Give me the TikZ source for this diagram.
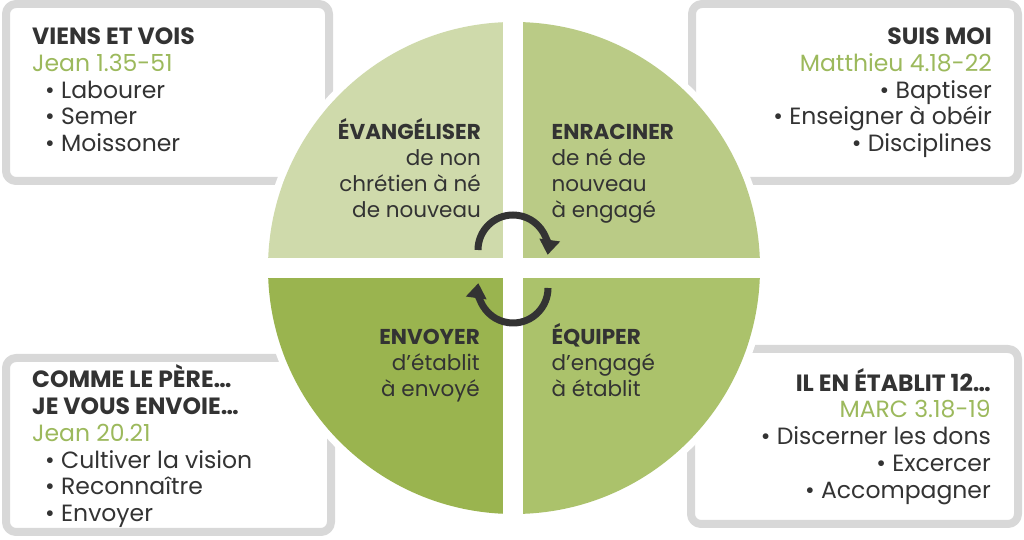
\documentclass[tikz,border=0pt]{standalone}
\usepackage{fontspec}
\setmainfont{Poppins}
\usetikzlibrary{arrows.meta}
\definecolor{textgray}{HTML}{333333}
\definecolor{refgreen}{HTML}{9CB95C}
\definecolor{boxgray}{HTML}{D8D8D8}
\definecolor{quadA}{HTML}{CFDAAB}
\definecolor{quadB}{HTML}{BACB86}
\definecolor{quadC}{HTML}{9AB44F}
\definecolor{quadD}{HTML}{ABC26B}
\newcommand{\bul}{\textbullet\ }
\newcommand{\verset}[1]{{\color{refgreen}#1}}

\begin{document}
\begin{tikzpicture}[line cap=round,line join=round,>={Triangle[length=15pt,width=20pt]},x=1pt,y=1pt,
  boxframe/.style={line width=8pt,color=boxgray,fill=white,rounded corners=10pt},
  boxtext/.style={inner sep=0pt,text=textgray,font=\fontsize{23.5}{26.8}\selectfont},
  quadtext/.style={inner sep=0pt,text=textgray,font=\fontsize{21.5}{26}\selectfont},
  cyclearrow/.style={->,line width=7pt,color=textgray,line cap=butt}]
\useasboundingbox (0,0) rectangle (1024,540);

% cadres
\draw [boxframe] (6,536) rectangle (329,359);
\draw [boxframe] (692,536) rectangle (1018,359);
\draw [boxframe] (6,182) rectangle (331,8);
\draw [boxframe] (691,191) rectangle (1018,16);

% cercle
\coordinate (C) at (514,272);
\draw [white,line width=7pt] (C) circle (249.5);
\fill [quadA] (C) -- ++(180:246) arc (180:90:246) -- cycle;
\fill [quadB] (C) -- ++(90:246) arc (90:0:246) -- cycle;
\fill [quadC] (C) -- ++(270:246) arc (270:180:246) -- cycle;
\fill [quadD] (C) -- ++(0:246) arc (0:-90:246) -- cycle;
\draw [white,line width=20pt,line cap=butt] (513,20) -- (513,524);
\draw [white,line width=20pt,line cap=butt] (262,272) -- (766,272);

% fleches
\draw [cyclearrow] (513,290) ++(180:35) arc (180:-8:35);
\draw [cyclearrow] (513,252) ++(0:35) arc (0:-188:35);

% quadrants
\node [quadtext,anchor=base east,align=right] (evang) at (481,322)
  {\textbf{ÉVANGÉLISER}\\de non~\\chrétien à né\\de nouveau};
\node [quadtext,anchor=base west,align=left] (enrac) at (551.5,322)
  {\textbf{ENRACINER}\\de né de\\nouveau\\à engagé};
\node [quadtext,anchor=base east,align=right] (envoy) at (480,143.3)
  {\textbf{ENVOYER}\\d’établit\\à envoyé};
\node [quadtext,anchor=base west,align=left] (equip) at (551.5,143.3)
  {\textbf{ÉQUIPER}\\d’engagé\\à établit};

% textes des cadres
\node [boxtext,anchor=base west,align=left] (viens) at (32,388.3)
  {\textbf{VIENS ET VOIS}\\\verset{Jean 1.35-51}\\\hspace{13pt}\bul Labourer\\\hspace{13pt}\bul Semer\\\hspace{13pt}\bul Moissoner};
\node [boxtext,anchor=base east,align=right] (suis) at (992,388.3)
  {\textbf{SUIS MOI}\\\verset{Matthieu 4.18-22}\\\bul Baptiser\\\bul Enseigner à obéir\\\bul Disciplines};
\node [boxtext,anchor=base west,align=left] (comme) at (32,18.3)
  {\textbf{COMME LE PÈRE…}\\\textbf{JE VOUS ENVOIE…}\\\verset{Jean 20.21}\\\hspace{13pt}\bul Cultiver la vision\\\hspace{13pt}\bul Reconnaître\\\hspace{13pt}\bul Envoyer};
\node [boxtext,anchor=base east,align=right] (etabl) at (991,41.7)
  {\textbf{IL EN ÉTABLIT 12…}\\\verset{MARC 3.18-19}\\\bul Discerner les dons\\\bul Excercer\\\bul Accompagner};

\end{tikzpicture}
\end{document}
